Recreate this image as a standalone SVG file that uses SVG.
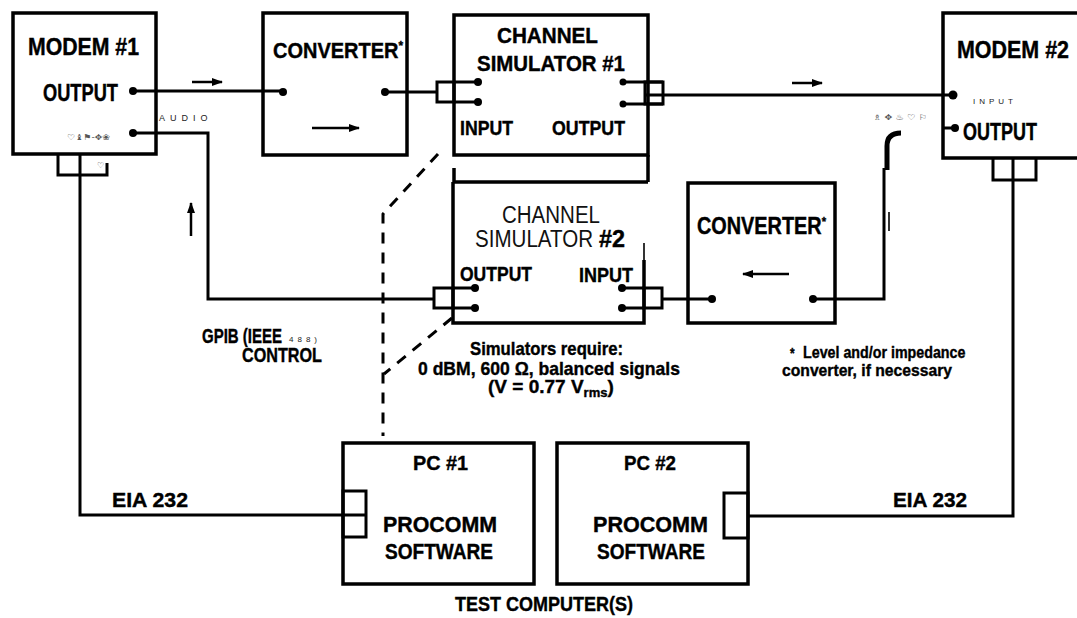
<svg xmlns="http://www.w3.org/2000/svg" width="1077" height="618" viewBox="0 0 1077 618">
<defs>
<marker id="ah" markerUnits="userSpaceOnUse" markerWidth="12" markerHeight="10" refX="10" refY="4" orient="auto">
<path d="M0,0 L11,4 L0,8 z" fill="#000"/>
</marker>
<style>
.box{fill:none;stroke:#000;stroke-width:3.5;stroke-linejoin:miter}
.w{fill:none;stroke:#000;stroke-width:3}
.thin{fill:none;stroke:#000;stroke-width:1.6}
.dash{fill:none;stroke:#000;stroke-width:3;stroke-dasharray:11,9}
.dot{fill:#000}
.b{font-family:"Liberation Sans",Arial,sans-serif;font-weight:bold;fill:#000;stroke:#000;stroke-width:0.4}
.r{font-family:"Liberation Sans",Arial,sans-serif;font-weight:normal;fill:#111}
.s{font-family:"Liberation Sans",Arial,sans-serif;font-size:9px;fill:#222;letter-spacing:5px}
.g{font-family:"DejaVu Sans",sans-serif;font-size:8px;fill:#555}
.arr{fill:none;stroke:#000;stroke-width:2.5}
</style>
</defs>
<rect width="1077" height="618" fill="#fff"/>

<g id="connectors">
<path class="w" d="M133,91 H283"/>
<path class="arr" d="M192,82 H222" marker-end="url(#ah)"/>
<path class="w" d="M385,92 H437"/>
<rect class="w" x="437" y="82" width="17" height="20"/>
<path class="w" d="M454,82 H478 M454,102 H478"/>
<path class="w" d="M623,82 H663 M623,104 H663"/>
<rect class="w" x="645" y="82" width="18" height="22"/>
<path class="w" d="M645,95 H953"/>
<path class="arr" d="M792,83 H822" marker-end="url(#ah)"/>
<path class="w" d="M943,128 H955"/>
<path fill="none" stroke="#000" stroke-width="5" d="M901,133 Q887,133 887,146 V170"/>
<path class="w" d="M884,168 V299 H813"/>
<path class="w" d="M712,299 H662"/>
<rect class="w" x="644" y="288" width="18" height="20"/>
<path class="w" d="M644,288 H622 M644,308 H622"/>
<path class="w" d="M133,133 H208 V299 H434"/>
<rect class="w" x="434" y="288" width="19" height="20"/>
<path class="w" d="M453,288 H475 M453,308 H475"/>
<path class="arr" d="M191,236 V203" marker-end="url(#ah)"/>
<path class="w" d="M58,154 V175 H107 V163"/>
<path class="w" d="M80,154 V515 H366"/>
<path class="w" d="M993,158 V180 H1036 V158"/>
<path class="w" d="M1013,158 V516 H748"/>
<path class="dash" d="M438,154 L383,214 V436"/>
<path class="dash" d="M452,318 L384,374"/>
<path class="thin" d="M889,212 V231"/>
</g>

<g id="modem1">
<rect class="box" x="13" y="13" width="143" height="141"/>
<text class="b" x="28" y="55" font-size="24" textLength="111" lengthAdjust="spacingAndGlyphs">MODEM #1</text>
<text class="b" x="43" y="101" font-size="23" textLength="75" lengthAdjust="spacingAndGlyphs">OUTPUT</text>
<circle class="dot" cx="133" cy="91" r="4"/>
<circle class="dot" cx="133" cy="133" r="4"/>
<text class="g" x="67" y="140" textLength="43" lengthAdjust="spacingAndGlyphs">♡♝⚑-✥❀</text>
<text class="g" x="97" y="168">♡</text>
<text class="s" x="159" y="121">AUDIO</text>
</g>

<g id="converter1">
<rect class="box" x="263" y="13" width="144" height="142"/>
<text class="b" x="273" y="58" font-size="22" textLength="130" lengthAdjust="spacingAndGlyphs">CONVERTER<tspan font-size="13" dy="-8">*</tspan></text>
<circle class="dot" cx="283" cy="92" r="4"/>
<circle class="dot" cx="385" cy="92" r="4"/>
<path class="arr" d="M312,128 H359" marker-end="url(#ah)"/>
</g>

<g id="sim1">
<rect class="box" x="454" y="15" width="194" height="140"/>
<path class="box" d="M648,155 V182 M454,168 V182"/>
<text class="b" x="497" y="43" font-size="22" textLength="101" lengthAdjust="spacingAndGlyphs">CHANNEL</text>
<text class="b" x="477" y="71" font-size="22" textLength="148" lengthAdjust="spacingAndGlyphs">SIMULATOR #1</text>
<text class="b" x="460" y="135" font-size="20" textLength="53" lengthAdjust="spacingAndGlyphs">INPUT</text>
<text class="b" x="552" y="135" font-size="20" textLength="73" lengthAdjust="spacingAndGlyphs">OUTPUT</text>
<circle class="dot" cx="478" cy="82" r="4"/>
<circle class="dot" cx="478" cy="102" r="4"/>
<circle class="dot" cx="623" cy="82" r="3.5"/>
<circle class="dot" cx="623" cy="104" r="3.5"/>
</g>

<g id="modem2">
<path class="box" d="M1080,13 H943 V158 H1080"/>
<text class="b" x="957" y="58" font-size="24" textLength="112" lengthAdjust="spacingAndGlyphs">MODEM #2</text>
<circle class="dot" cx="953" cy="95" r="4.5"/>
<text class="s" x="973" y="104" style="font-size:8px;letter-spacing:4px">INPUT</text>
<circle class="dot" cx="955" cy="128" r="4"/>
<text class="b" x="963" y="140" font-size="23" textLength="74" lengthAdjust="spacingAndGlyphs">OUTPUT</text>
<text class="g" x="873" y="120" textLength="54" lengthAdjust="spacingAndGlyphs">♗ ✥ ♨ ♡ ⚐</text>
</g>

<g id="sim2">
<path class="box" d="M454,182 H648 M453,182 V323 H644 V260"/>
<path class="thin" d="M644,243 V262"/>
<text class="r" x="502" y="223" font-size="23" textLength="98" lengthAdjust="spacingAndGlyphs">CHANNEL</text>
<text class="r" x="475" y="247" font-size="23" textLength="118" lengthAdjust="spacingAndGlyphs">SIMULATOR</text>
<text class="b" x="599" y="247" font-size="23" textLength="26" lengthAdjust="spacingAndGlyphs">#2</text>
<text class="b" x="460" y="281" font-size="20" textLength="72" lengthAdjust="spacingAndGlyphs">OUTPUT</text>
<text class="b" x="579" y="282" font-size="20" textLength="54" lengthAdjust="spacingAndGlyphs">INPUT</text>
<circle class="dot" cx="475" cy="288" r="4"/>
<circle class="dot" cx="475" cy="308" r="4"/>
<circle class="dot" cx="622" cy="288" r="4"/>
<circle class="dot" cx="622" cy="308" r="4"/>
</g>

<g id="converter2">
<rect class="box" x="688" y="183" width="147" height="140"/>
<text class="b" x="697" y="234" font-size="23" textLength="129" lengthAdjust="spacingAndGlyphs">CONVERTER<tspan font-size="13" dy="-8">*</tspan></text>
<circle class="dot" cx="712" cy="299" r="4"/>
<circle class="dot" cx="813" cy="299" r="4"/>
<path class="arr" d="M789,274 H743" marker-end="url(#ah)"/>
</g>

<g id="pc1">
<rect class="box" x="343" y="443" width="191" height="141"/>
<rect class="w" x="343" y="491" width="23" height="46"/>
<text class="b" x="413" y="470" font-size="21" textLength="55" lengthAdjust="spacingAndGlyphs">PC #1</text>
<text class="b" x="383" y="532" font-size="22" textLength="114" lengthAdjust="spacingAndGlyphs">PROCOMM</text>
<text class="b" x="385" y="559" font-size="22" textLength="108" lengthAdjust="spacingAndGlyphs">SOFTWARE</text>
</g>

<g id="pc2">
<rect class="box" x="557" y="443" width="191" height="141"/>
<rect class="w" x="724" y="493" width="24" height="45"/>
<text class="b" x="624" y="470" font-size="21" textLength="52" lengthAdjust="spacingAndGlyphs">PC #2</text>
<text class="b" x="593" y="532" font-size="22" textLength="115" lengthAdjust="spacingAndGlyphs">PROCOMM</text>
<text class="b" x="597" y="559" font-size="22" textLength="108" lengthAdjust="spacingAndGlyphs">SOFTWARE</text>
</g>

<g id="labels">
<text class="b" x="202" y="343" font-size="20" textLength="80" lengthAdjust="spacingAndGlyphs">GPIB (IEEE</text>
<text class="s" x="289" y="342" style="font-size:8px;letter-spacing:4px">488)</text>
<text class="b" x="242" y="362" font-size="20" textLength="80" lengthAdjust="spacingAndGlyphs">CONTROL</text>
<text class="b" x="470" y="355" font-size="19" textLength="153" lengthAdjust="spacingAndGlyphs">Simulators require:</text>
<text class="b" x="418" y="375" font-size="19" textLength="262" lengthAdjust="spacingAndGlyphs">0 dBM, 600 Ω, balanced signals</text>
<text class="b" x="488" y="393" font-size="19">(V = 0.77 V<tspan font-size="13" dy="4">rms</tspan><tspan dy="-4">)</tspan></text>
<text class="b" x="803" y="358" font-size="17" textLength="167" lengthAdjust="spacingAndGlyphs"><tspan x="790" font-size="14">*</tspan><tspan x="803">Level and/or impedance</tspan></text>
<text class="b" x="782" y="376" font-size="17" textLength="170" lengthAdjust="spacingAndGlyphs">converter, if necessary</text>
<text class="b" x="112" y="507" font-size="21" textLength="76" lengthAdjust="spacingAndGlyphs">EIA 232</text>
<text class="b" x="893" y="507" font-size="21" textLength="74" lengthAdjust="spacingAndGlyphs">EIA 232</text>
<text class="b" x="455" y="611" font-size="21" textLength="178" lengthAdjust="spacingAndGlyphs">TEST COMPUTER(S)</text>
</g>
</svg>
